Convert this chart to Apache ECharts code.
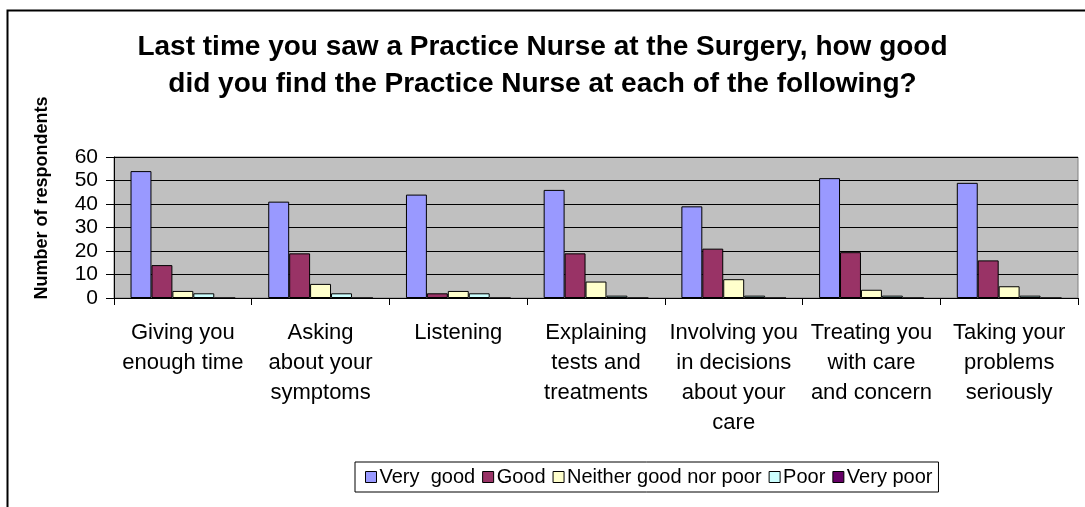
<!DOCTYPE html>
<html>
<head>
<meta charset="utf-8">
<script src="https://cdn.jsdelivr.net/npm/echarts@6/dist/echarts.min.js"></script>
<style>
html,body{margin:0;padding:0;background:#fff;}
#nurseChart{width:1085px;height:507px;}
</style>
</head>
<body>
<div id="nurseChart"></div>
<script>
// categories on the x axis
var categories = [
    "Giving you\nenough time",
    "Asking\nabout your\nsymptoms",
    "Listening",
    "Explaining\ntests and\ntreatments",
    "Involving you\nin decisions\nabout your\ncare",
    "Treating you\nwith care\nand concern",
    "Taking your\nproblems\nseriously"
];
var seriesNames = ["Very  good", "Good", "Neither good nor poor", "Poor", "Very poor"];
var veryGood = [54, 41, 44, 46, 39, 51, 49];
var good = [14, 19, 2, 19, 21, 19.5, 16];
var neither = [3, 6, 3, 7, 8, 3.5, 5];
var poor = [2, 2, 2, 1, 1, 1, 1];
var veryPoor = [0, 0, 0, 0, 0, 0, 0];
var yTicks = [0, 10, 20, 30, 40, 50, 60];

var colors = ["#9999FF", "#993366", "#FFFFCC", "#CCFFFF", "#660066"];
var allData = [veryGood, good, neither, poor, veryPoor];

var chart = echarts.init(document.getElementById("nurseChart"));

var series = [];
for (let i = 0; i < seriesNames.length; i++) {
    series.push({
        name: seriesNames[i],
        type: "bar",
        data: allData[i],
        barGap: "0%",
        barCategoryGap: "24%",
        itemStyle: {
            color: colors[i],
            borderColor: "#000",
            borderWidth: 1
        }
    });
}

var option = {
    animation: false,
    color: colors,
    textStyle: { fontFamily: "Liberation Sans, Arial, sans-serif" },
    title: {
        text: "Last time you saw a Practice Nurse at the Surgery, how good\ndid you find the Practice Nurse at each of the following?",
        left: "center",
        top: 24,
        textStyle: {
            color: "#000",
            fontSize: 28,
            fontWeight: "bold",
            lineHeight: 37,
            fontFamily: "Liberation Sans, Arial, sans-serif"
        }
    },
    legend: {
        left: 355,
        top: 462,
        data: seriesNames,
        icon: "rect",
        itemWidth: 11,
        itemHeight: 11,
        itemGap: 7,
        padding: [5, 6, 5, 10],
        borderColor: "#000",
        borderWidth: 1,
        itemStyle: { borderColor: "#000", borderWidth: 1 },
        textStyle: { color: "#000", fontSize: 20, padding: [0, 0, 0, -2] }
    },
    grid: {
        left: 114,
        top: 157,
        width: 964,
        height: 141,
        show: true,
        backgroundColor: "#C0C0C0",
        borderColor: "#808080",
        borderWidth: 1
    },
    xAxis: {
        type: "category",
        data: categories,
        axisLine: { lineStyle: { color: "#000", width: 1 } },
        axisTick: { show: true, length: 7, lineStyle: { color: "#000" } },
        axisLabel: {
            interval: 0,
            color: "#000",
            fontSize: 22,
            lineHeight: 30,
            margin: 20
        }
    },
    yAxis: {
        type: "value",
        min: yTicks[0],
        max: yTicks[yTicks.length - 1],
        interval: 10,
        axisLine: { show: true, lineStyle: { color: "#000", width: 1 } },
        axisTick: { show: true, length: 8, lineStyle: { color: "#000" } },
        axisLabel: { color: "#000", fontSize: 21, margin: 16 },
        splitLine: { show: true, lineStyle: { color: "#000", width: 1 } }
    },
    graphic: [{
        type: "rect",
        shape: { x: 7.5, y: 10.5, width: 1090, height: 505 },
        style: { fill: null, stroke: "#000", lineWidth: 2 },
        silent: true
    }, {
        // y axis title
        type: "text",
        x: 42,
        y: 198,
        rotation: Math.PI / 2,
        style: {
            text: "Number of respondents",
            fill: "#000",
            fontSize: 18,
            fontWeight: "bold",
            fontFamily: "Liberation Sans, Arial, sans-serif",
            align: "center",
            verticalAlign: "middle"
        },
        silent: true
    }],
    series: series
};

chart.setOption(option);
</script>
</body>
</html>
